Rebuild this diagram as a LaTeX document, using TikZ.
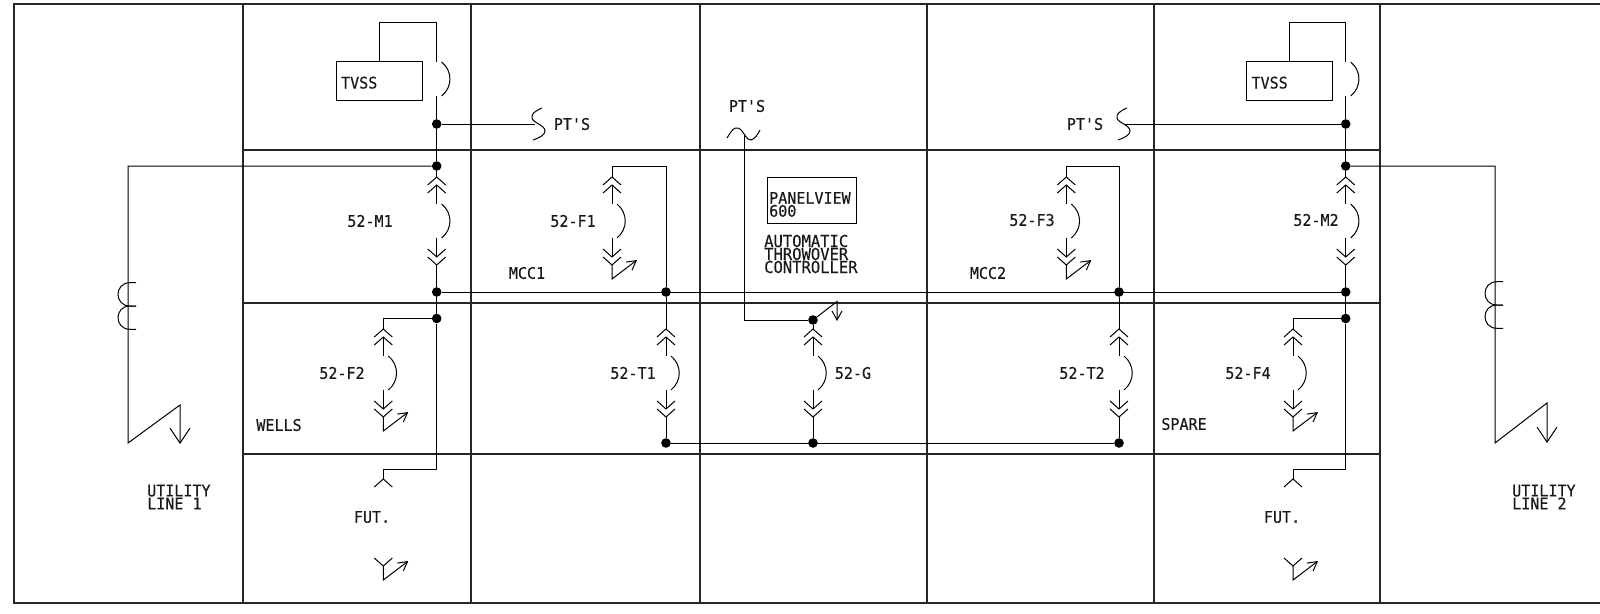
\documentclass[tikz,border=0pt]{standalone}
\usepackage{fontspec}
\setmainfont{DejaVu Sans Mono}
\newfontfamily\cadfont[FakeBold=0.35,FakeStretch=0.94]{DejaVu Sans Mono}
\usetikzlibrary{arrows.meta}
\tikzset{
  grid/.style={line width=2pt,black!85},
  wire/.style={line width=1pt,black},
  dot/.style={circle,fill=black,inner sep=0pt,minimum size=9.6pt},
  lbl/.style={font=\cadfont\fontsize{16}{13}\selectfont,inner sep=0pt,text=black!90,align=left},
  ctl/.style={font=\cadfont\fontsize{16.5}{13}\selectfont,inner sep=0pt,text=black!90,align=left},
  box/.style={draw,line width=1pt},
  barb/.style={-{Straight Barb[length=9pt,width=10pt,line width=1pt]}},
  bigbarb/.style={-{Straight Barb[length=15pt,width=20pt,line width=1pt]}},
  chevup/.pic={\draw[wire] (-9,8) -- (0,0) -- (9,8);},
  chevdn/.pic={\draw[wire] (-9,-8) -- (0,0) -- (9,-8);},
  trip/.pic={
    \coordinate (-t) at (0,-17);
    \coordinate (-b) at (0,17);
    \draw[wire] (5,-17) .. controls (16,-8) and (16,8) .. (5,17);
  },
  breaker/.pic={
    \coordinate (-t) at (0,-44);
    \coordinate (-b) at (0,44);
    \draw[wire] (0,-36) -- (0,-17);
    \draw[wire] (0,17) -- (0,36);
    \draw[wire] (5,-17) .. controls (16,-8) and (16,8) .. (5,17);
    \pic at (0,-44) {chevup};
    \pic at (0,-36) {chevup};
    \pic at (0,36) {chevdn};
    \pic at (0,44) {chevdn};
  },
  drawout/.pic={
    \draw[wire,barb] (0,0) -- (0,14) -- (25,-5);
  },
  ct/.pic={
    \draw[wire] (8,-23.3) -- (2,-23.3) .. controls (-14,-23.3) and (-14,0) .. (2,0) -- (8,0);
    \draw[wire] (8,0) -- (2,0) .. controls (-14,0) and (-14,23.3) .. (2,23.3) -- (8,23.3);
  }
}
\begin{document}
\begin{tikzpicture}[x=1pt,y=-1pt]
\useasboundingbox (0,0) rectangle (1600,613);
% frame
\draw[grid] (1600,4) -- (14,4) -- (14,603) -- (1600,603);
\foreach \gx in {243,470.5,700,926.5,1153.5,1380.3} \draw[grid] (\gx,4) -- (\gx,603);
\foreach \gy in {150,302.5,453.5} \draw[grid] (243,\gy) -- (1380.3,\gy);

% junction dots
\node[dot] (a1) at (436.7,124) {};
\node[dot] (a2) at (436.7,166) {};
\node[dot] (a3) at (436.7,292) {};
\node[dot] (a4) at (436.7,318.5) {};
\node[dot] (f1j) at (666,292) {};
\node[dot] (t1j) at (666,443) {};
\node[dot] (gt) at (813,320) {};
\node[dot] (gb) at (813,443) {};
\node[dot] (f3j) at (1119,292) {};
\node[dot] (t2j) at (1119,443) {};
\node[dot] (b1) at (1345.7,124) {};
\node[dot] (b2) at (1345.7,166) {};
\node[dot] (b3) at (1345.7,292) {};
\node[dot] (b4) at (1345.7,318.5) {};

% breakers
\pic (m1) at (436.7,221) {breaker};
\pic (f1) at (612,221) {breaker};
\pic (f2) at (383.3,373) {breaker};
\pic (t1) at (666,373) {breaker};
\pic (g) at (813,373) {breaker};
\pic (t2) at (1119,373) {breaker};
\pic (f3) at (1066.3,221) {breaker};
\pic (f4) at (1293,373) {breaker};
\pic (m2) at (1345.7,221) {breaker};
\pic at (f1-b) {drawout};
\pic at (f2-b) {drawout};
\pic at (f3-b) {drawout};
\pic at (f4-b) {drawout};

% main verticals
\draw[wire] (a2) -- (m1-t);
\draw[wire] (m1-b) -- (a3);
\draw[wire] (b2) -- (m2-t);
\draw[wire] (m2-b) -- (b3);
\draw[wire] (a3) -- (b3);
\draw[wire] (t1j) -- (t2j);
\draw[wire] (a1) -- (a2);
\draw[wire] (b1) -- (b2);
\draw[wire] (a3) -- (a4);
\draw[wire] (b3) -- (b4);
\draw[wire] (t1-b) -- (t1j);
\draw[wire] (f1j) -- (t1-t);
\draw[wire] (f3j) -- (t2-t);
\draw[wire] (t2-b) -- (t2j);
\draw[wire] (g-b) -- (gb);
\draw[wire] (gt) -- (g-t);

% feeders
\draw[wire] (f1-t) |- (f1j |- a2) -- (f1j);
\draw[wire] (f3-t) |- (f3j |- b2) -- (f3j);
\draw[wire] (a4) -| (f2-t);
\draw[wire] (b4) -| (f4-t);

% future cubicles
\coordinate (fu1) at (383.3,479);
\coordinate (fu2) at (1293,479);
\draw[wire] (a4) -- (a4 |- 0,469) -- (fu1 |- 0,469) -- (fu1);
\draw[wire] (b4) -- (b4 |- 0,469) -- (fu2 |- 0,469) -- (fu2);
\pic at (fu1) {chevup};
\pic at (fu2) {chevup};
\coordinate (fl1) at (383.3,566);
\coordinate (fl2) at (1293,566);
\pic at (fl1) {chevdn};
\pic at (fl2) {chevdn};
\pic at (fl1) {drawout};
\pic at (fl2) {drawout};

% TVSS
\node[box,lbl,minimum height=39pt,text width=76.4pt,inner xsep=4.7pt] (tvss1) at (379.3,81) {\raisebox{-7.5pt}[0pt][0pt]{TVSS}};
\node[box,lbl,minimum height=39pt,text width=76.4pt,inner xsep=4.7pt] (tvss2) at (1289.7,81) {\raisebox{-7.5pt}[0pt][0pt]{TVSS}};
\pic (c1) at (436.7,79) {trip};
\pic (c2) at (1345.7,79) {trip};
\draw[wire] (tvss1.north) -- (tvss1.north |- 0,22) -| (c1-t);
\draw[wire] (tvss2.north) -- (tvss2.north |- 0,22) -| (c2-t);
\draw[wire] (c1-b) -- (a1);
\draw[wire] (c2-b) -- (b1);

% PT's
\coordinate (s1) at (535,124);
\coordinate (s2) at (1125,124);
\draw[wire] (a1) -- (s1);
\draw[wire] (b1) -- (s2);
\draw[wire] (542,108) .. controls (535,111) and (531,114) .. (532,118) .. controls (533,123) and (545,125) .. (545,131) .. controls (545,135) and (539,138) .. (533,140);
\draw[wire] (1127,108) .. controls (1120,111) and (1116,114) .. (1117,118) .. controls (1118,123) and (1130,125) .. (1130,131) .. controls (1130,135) and (1124,138) .. (1118,140);
\draw[wire] (727,138) .. controls (732,130) and (734,127) .. (738,128) .. controls (744,130) and (746,141) .. (751,140) .. controls (755,139) and (758,134) .. (760,130);
\coordinate (w) at (744,135);
\draw[wire] (w) |- (gt);
\coordinate (gk) at (837,301.5);
\draw[wire,barb] (gt) -- (gk) -- (837,321);

% utility lines
\coordinate (l1a) at (128,443);
\coordinate (l1b) at (180,405);
\draw[wire,bigbarb] (a2) -| (l1a) -- (l1b) -- (180,444);
\coordinate (l2a) at (1495,443);
\coordinate (l2b) at (1547,403);
\draw[wire,bigbarb] (b2) -| (l2a) -- (l2b) -- (1547,443);
\pic at (128,306) {ct};
\pic at (1495,305) {ct};

% PanelView
\node[box,minimum width=89pt,minimum height=46pt] (pv) at (811.5,200) {};

% labels
\node[lbl] (t01) at (572,124) {PT'S};
\node[lbl] (t02) at (1085,124) {PT'S};
\node[lbl] (t03) at (747,106) {PT'S};
\node[lbl] (t04) at (370,221) {52-M1};
\node[lbl] (t05) at (573,221) {52-F1};
\node[lbl] (t06) at (342,373) {52-F2};
\node[lbl] (t07) at (633,373) {52-T1};
\node[lbl] (t08) at (853,373) {52-G};
\node[lbl] (t09) at (1082,373) {52-T2};
\node[lbl] (t10) at (1248,373) {52-F4};
\node[lbl] (t11) at (1032,220) {52-F3};
\node[lbl] (t12) at (1316,220) {52-M2};
\node[lbl] (t13) at (527,273) {MCC1};
\node[lbl] (t14) at (988,273) {MCC2};
\node[lbl] (t15) at (279,425) {WELLS};
\node[lbl] (t16) at (1184,424) {SPARE};
\node[lbl] (t17) at (372,517) {FUT.};
\node[lbl] (t18) at (1282,517) {FUT.};
\node[lbl,anchor=west] (t19) at (147,497) {UTILITY\\LINE 1};
\node[lbl,anchor=west] (t20) at (1512,497) {UTILITY\\LINE 2};
\node[lbl,anchor=west] (t21) at (769,204.5) {PANELVIEW\\600};
\node[ctl,anchor=west] (t22) at (764,254) {AUTOMATIC\\THROWOVER\\CONTROLLER};
\end{tikzpicture}
\end{document}
